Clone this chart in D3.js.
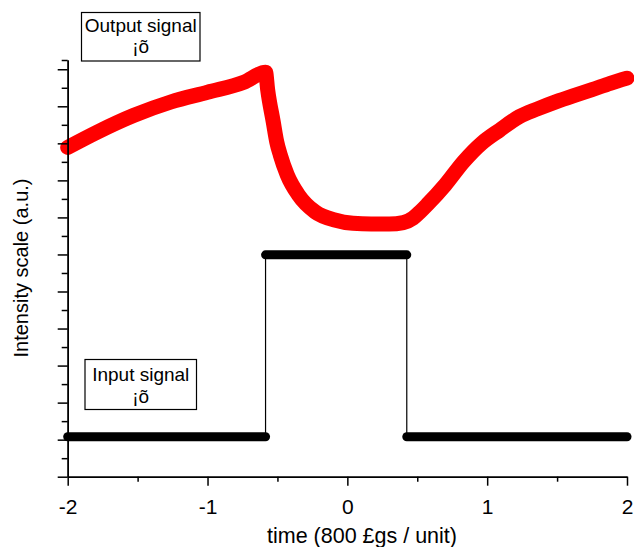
<!DOCTYPE html>
<html>
<head>
<meta charset="utf-8">
<script src="https://cdn.jsdelivr.net/npm/d3@7"></script>
<style>
  html, body { margin: 0; padding: 0; background: #fff; }
  svg { display: block; }
  text { font-family: "Liberation Sans", Arial, Helvetica, sans-serif; fill: #000; }
</style>
</head>
<body>
<svg id="chart" width="634" height="547"></svg>
<script>
// ---- data ----
const outputX = [-2.0, -1.79, -1.53, -1.26, -1.0, -0.74, -0.585, -0.57, -0.53, -0.505, -0.48, -0.43, -0.35, -0.23, -0.09, 0.04, 0.17, 0.3, 0.4, 0.47, 0.52, 0.57, 0.7, 0.83, 0.96, 1.09, 1.23, 1.36, 1.49, 1.62, 1.75, 1.88, 2.0];
const outputY = [8.89, 9.30, 9.75, 10.12, 10.38, 10.65, 10.92, 10.45, 9.58, 9.04, 8.69, 8.15, 7.61, 7.15, 6.93, 6.84, 6.82, 6.82, 6.86, 6.98, 7.15, 7.34, 7.88, 8.50, 9.00, 9.36, 9.72, 9.93, 10.12, 10.29, 10.45, 10.62, 10.76];
const inputX = [-2.0, -0.585, -0.585, 0.425, 0.425, 2.0];
const inputY = [1.08, 1.08, 5.99, 5.99, 1.08, 1.08];
const xMajorTicks = [-2, -1, 0, 1, 2];
const xMinorTicks = [-1.5, -0.5, 0.5, 1.5];
const yMajorTicks = [0, 1, 2, 3, 4, 5, 6, 7, 8, 9, 10, 11];
const yMinorTicks = [0.5, 1.5, 2.5, 3.5, 4.5, 5.5, 6.5, 7.5, 8.5, 9.5, 10.5, 11.25];
const xTitle = "time (800 £gs / unit)";
const yTitle = "Intensity scale (a.u.)";
const legendOutput = ["Output signal", "¡õ"];
const legendInput = ["Input signal", "¡õ"];

// ---- drawing ----
const svg = d3.select("#chart");
svg.append("rect").attr("width", 634).attr("height", 547).attr("fill", "#fff");

const x = d3.scaleLinear().domain([-2, 2]).range([67.7, 627]);
const y = d3.scaleLinear().domain([0, 11.25]).range([476.7, 60]);

const outData = outputX.map((v, i) => [v, outputY[i]]);
const inData = inputX.map((v, i) => [v, inputY[i]]);

// output signal (red band)
svg.append("path")
  .datum(outData)
  .attr("fill", "none")
  .attr("stroke", "#ff0000")
  .attr("stroke-width", 15)
  .attr("stroke-linejoin", "round")
  .attr("stroke-linecap", "round")
  .attr("d", d3.line().x(d => x(d[0])).y(d => y(d[1])).curve(d3.curveMonotoneX));

// input signal: thin connecting line
svg.append("path")
  .datum(inData)
  .attr("fill", "none")
  .attr("stroke", "#000")
  .attr("stroke-width", 1.2)
  .attr("d", d3.line().x(d => x(d[0])).y(d => y(d[1])));

// input signal: thick level segments
const levelSegs = [];
for (let i = 0; i < inData.length - 1; i++) {
  if (inData[i][1] === inData[i + 1][1]) levelSegs.push([inData[i], inData[i + 1]]);
}
svg.selectAll("path.level").data(levelSegs).enter().append("path")
  .attr("class", "level")
  .attr("fill", "none")
  .attr("stroke", "#000")
  .attr("stroke-width", 9)
  .attr("stroke-linecap", "round")
  .attr("d", d3.line().x(d => x(d[0])).y(d => y(d[1])));

// axes
function styleAxis(g) {
  g.selectAll("path.domain").attr("stroke", "#000").attr("stroke-width", 1.5);
  g.selectAll(".tick line").attr("stroke", "#000").attr("stroke-width", 1.5);
}
const gy = svg.append("g").attr("transform", `translate(${x(-2)},0)`)
  .call(d3.axisLeft(y).tickValues(yMajorTicks).tickSize(10).tickSizeOuter(0).tickFormat(""));
styleAxis(gy);
const gy2 = svg.append("g").attr("transform", `translate(${x(-2)},0)`)
  .call(d3.axisLeft(y).tickValues(yMinorTicks).tickSize(6).tickSizeOuter(0).tickFormat(""));
styleAxis(gy2);

const gx = svg.append("g").attr("transform", `translate(0,${y(0)})`)
  .call(d3.axisBottom(x).tickValues(xMajorTicks).tickSize(9).tickSizeOuter(0).tickPadding(13).tickFormat(d3.format("d")));
styleAxis(gx);
gx.selectAll(".tick text").attr("font-size", 21).attr("font-family", "Liberation Sans, Arial, sans-serif").attr("fill", "#000");
const gx2 = svg.append("g").attr("transform", `translate(0,${y(0)})`)
  .call(d3.axisBottom(x).tickValues(xMinorTicks).tickSize(5).tickSizeOuter(0).tickFormat(""));
styleAxis(gx2);
gx.selectAll(".tick text").text(d => d < 0 ? "-" + Math.abs(d) : d);

// axis titles
svg.append("text").attr("x", 362).attr("y", 543).attr("text-anchor", "middle")
  .attr("font-size", 21.5).text(xTitle);
svg.append("text").attr("transform", "translate(27.5,268) rotate(-90)")
  .attr("text-anchor", "middle").attr("font-size", 20).text(yTitle);

// legend boxes
function legendBox(x0, y0, w, h, lines, cy1, cy2) {
  svg.append("rect").attr("x", x0).attr("y", y0).attr("width", w).attr("height", h)
    .attr("fill", "#fff").attr("stroke", "#000").attr("stroke-width", 1.2);
  const cx = x0 + w / 2;
  svg.append("text").attr("x", cx).attr("y", cy1).attr("dy", "0.35em").attr("text-anchor", "middle")
    .attr("font-size", 19).text(lines[0]);
  svg.append("text").attr("x", cx).attr("y", cy2).attr("dy", "0.35em").attr("text-anchor", "middle")
    .attr("font-size", 19).text(lines[1]);
}
legendBox(81.5, 12.5, 118.5, 48.5, legendOutput, 25, 46.5);
legendBox(85, 359.5, 111.5, 50, legendInput, 374, 396.5);
</script>
</body>
</html>
